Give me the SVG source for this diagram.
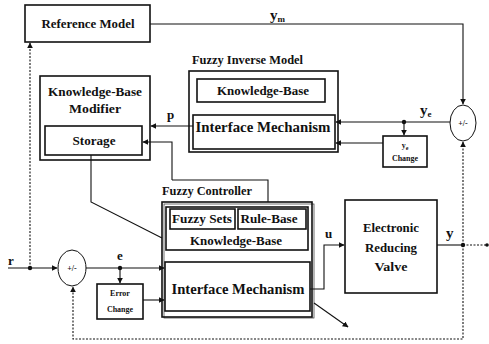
<svg xmlns="http://www.w3.org/2000/svg" width="489" height="344" viewBox="0 0 489 344">
<style>
.box{fill:none;stroke:#111;stroke-width:1.6}
.thin{fill:none;stroke:#111;stroke-width:1}
.shadow{fill:none;stroke:#333;stroke-width:0.7}
.ln{fill:none;stroke:#111;stroke-width:1.1}
.dot{fill:none;stroke:#111;stroke-width:1.1;stroke-dasharray:2 1.5}
.t{font-family:"Liberation Serif","Times New Roman",serif;font-weight:bold;fill:#111}
.big{font-size:15px}
.mid{font-size:13px}
.sm{font-size:8px}
</style>
<defs>
<marker id="ar" viewBox="0 0 10 10" refX="9" refY="5" markerWidth="6" markerHeight="6" markerUnits="userSpaceOnUse" orient="auto">
<path d="M0,0 L10,5 L0,10 z" fill="#111"/>
</marker>
</defs>
<rect width="489" height="344" fill="#fff"/>

<g id="reference-model">
<rect class="box" x="25" y="5" width="125" height="37"/>
<text class="t mid" x="88" y="28" text-anchor="middle" textLength="93" lengthAdjust="spacingAndGlyphs">Reference Model</text>
</g>

<g id="kb-modifier">
<rect class="box" x="40" y="76" width="110" height="84"/>
<text class="t mid" x="95" y="96" text-anchor="middle" textLength="94" lengthAdjust="spacingAndGlyphs">Knowledge-Base</text>
<text class="t mid" x="95" y="113" text-anchor="middle" textLength="52" lengthAdjust="spacingAndGlyphs">Modifier</text>
<rect class="box" x="45" y="126" width="97" height="29"/>
<text class="t mid" x="94" y="145" text-anchor="middle" textLength="43" lengthAdjust="spacingAndGlyphs">Storage</text>
</g>

<g id="fuzzy-inverse-model">
<text class="t mid" x="192" y="64" textLength="111" lengthAdjust="spacingAndGlyphs">Fuzzy Inverse Model</text>
<rect class="box" x="189" y="71" width="149" height="81"/>
<rect class="box" x="197" y="79" width="128" height="23"/>
<text class="t mid" x="263" y="95" text-anchor="middle" textLength="92" lengthAdjust="spacingAndGlyphs">Knowledge-Base</text>
<rect class="box" x="193" y="115" width="142" height="34"/>
<text class="t big" x="263" y="132" text-anchor="middle" textLength="135" lengthAdjust="spacingAndGlyphs">Interface Mechanism</text>
</g>

<g id="fuzzy-controller">
<text class="t mid" x="162" y="195" textLength="90" lengthAdjust="spacingAndGlyphs">Fuzzy Controller</text>
<rect class="shadow" x="164" y="204" width="150" height="114"/>
<rect class="box" x="162" y="202" width="150" height="115"/>
<rect class="box" x="166" y="207" width="142" height="43"/>
<rect class="box" x="170" y="209" width="65" height="20"/>
<text class="t mid" x="202" y="223" text-anchor="middle" textLength="60" lengthAdjust="spacingAndGlyphs">Fuzzy Sets</text>
<rect class="box" x="238" y="209" width="68" height="20"/>
<text class="t mid" x="269" y="223" text-anchor="middle" textLength="57" lengthAdjust="spacingAndGlyphs">Rule-Base</text>
<text class="t mid" x="236" y="245" text-anchor="middle" textLength="92" lengthAdjust="spacingAndGlyphs">Knowledge-Base</text>
<rect class="box" x="165" y="262" width="145" height="49"/>
<text class="t big" x="238" y="294" text-anchor="middle" textLength="133" lengthAdjust="spacingAndGlyphs">Interface Mechanism</text>
</g>

<g id="valve">
<rect class="box" x="345" y="200" width="92" height="93"/>
<text class="t mid" x="391" y="232" text-anchor="middle" textLength="56" lengthAdjust="spacingAndGlyphs">Electronic</text>
<text class="t mid" x="391" y="252" text-anchor="middle" textLength="52" lengthAdjust="spacingAndGlyphs">Reducing</text>
<text class="t mid" x="391" y="271" text-anchor="middle" textLength="33" lengthAdjust="spacingAndGlyphs">Valve</text>
</g>

<g id="error-change">
<rect class="box" x="97" y="284" width="46" height="35"/>
<text class="t sm" x="120" y="296" text-anchor="middle">Error</text>
<text class="t sm" x="120" y="312" text-anchor="middle">Change</text>
</g>

<g id="ye-change">
<rect class="box" x="383" y="136" width="44" height="31"/>
<text class="t sm" x="405" y="148" text-anchor="middle">y<tspan font-size="6" dy="2">e</tspan></text>
<text class="t sm" x="405" y="161" text-anchor="middle">Change</text>
</g>

<g id="sum-left">
<ellipse class="thin" cx="72" cy="268" rx="14" ry="18"/>
<text class="t sm" x="72" y="271" text-anchor="middle">+/-</text>
</g>

<g id="sum-right">
<ellipse class="thin" cx="463" cy="123" rx="13" ry="18"/>
<text class="t sm" x="463" y="126" text-anchor="middle">+/-</text>
</g>

<g id="connectors">
<path class="ln" d="M150,24 H463 V104" marker-end="url(#ar)"/>
<path class="ln" d="M8,268 H57" marker-end="url(#ar)"/>
<path class="dot" d="M30,268 V43" marker-end="url(#ar)"/>
<path class="ln" d="M86,268 H164" marker-end="url(#ar)"/>
<path class="ln" d="M120,268 V283" marker-end="url(#ar)"/>
<path class="ln" d="M143,300 H164" marker-end="url(#ar)"/>
<path class="dot" d="M463,245 V339 H73 V287" marker-end="url(#ar)"/>
<path class="dot" d="M463,245 V142" marker-end="url(#ar)"/>
<path class="ln" d="M437,245 H463"/>
<path class="dot" d="M463,245 H487"/>
<path class="ln" d="M310,289 H324 V245 H344" marker-end="url(#ar)"/>
<path class="ln" d="M450,122 H336" marker-end="url(#ar)"/>
<path class="ln" d="M404,122 V135" marker-end="url(#ar)"/>
<path class="ln" d="M383,143 H336" marker-end="url(#ar)"/>
<path class="ln" d="M193,126 H151" marker-end="url(#ar)"/>
<path class="ln" d="M172,180 V142 H143" marker-end="url(#ar)"/>
<path class="ln" d="M172,180 H268 V202"/>
<path class="ln" d="M91,155 V202 L162,238"/>
<path class="ln" d="M314,303 L348,327" marker-end="url(#ar)"/>
<circle cx="30" cy="268" r="2.2" fill="#111"/>
<circle cx="120" cy="268" r="2.2" fill="#111"/>
<circle cx="404" cy="122" r="2.2" fill="#111"/>
<circle cx="463" cy="245" r="2.2" fill="#111"/>
<circle cx="487" cy="245" r="1.8" fill="#111"/>
<text class="t big" x="270" y="20">y<tspan font-size="9" dy="2">m</tspan></text>
<text class="t big" x="420" y="115">y<tspan font-size="9" dy="2">e</tspan></text>
<text class="t mid" x="8" y="265">r</text>
<text class="t mid" x="120" y="260" text-anchor="middle">e</text>
<text class="t mid" x="167" y="119">p</text>
<text class="t mid" x="325" y="238">u</text>
<text class="t big" x="446" y="238">y</text>
</g>
</svg>
